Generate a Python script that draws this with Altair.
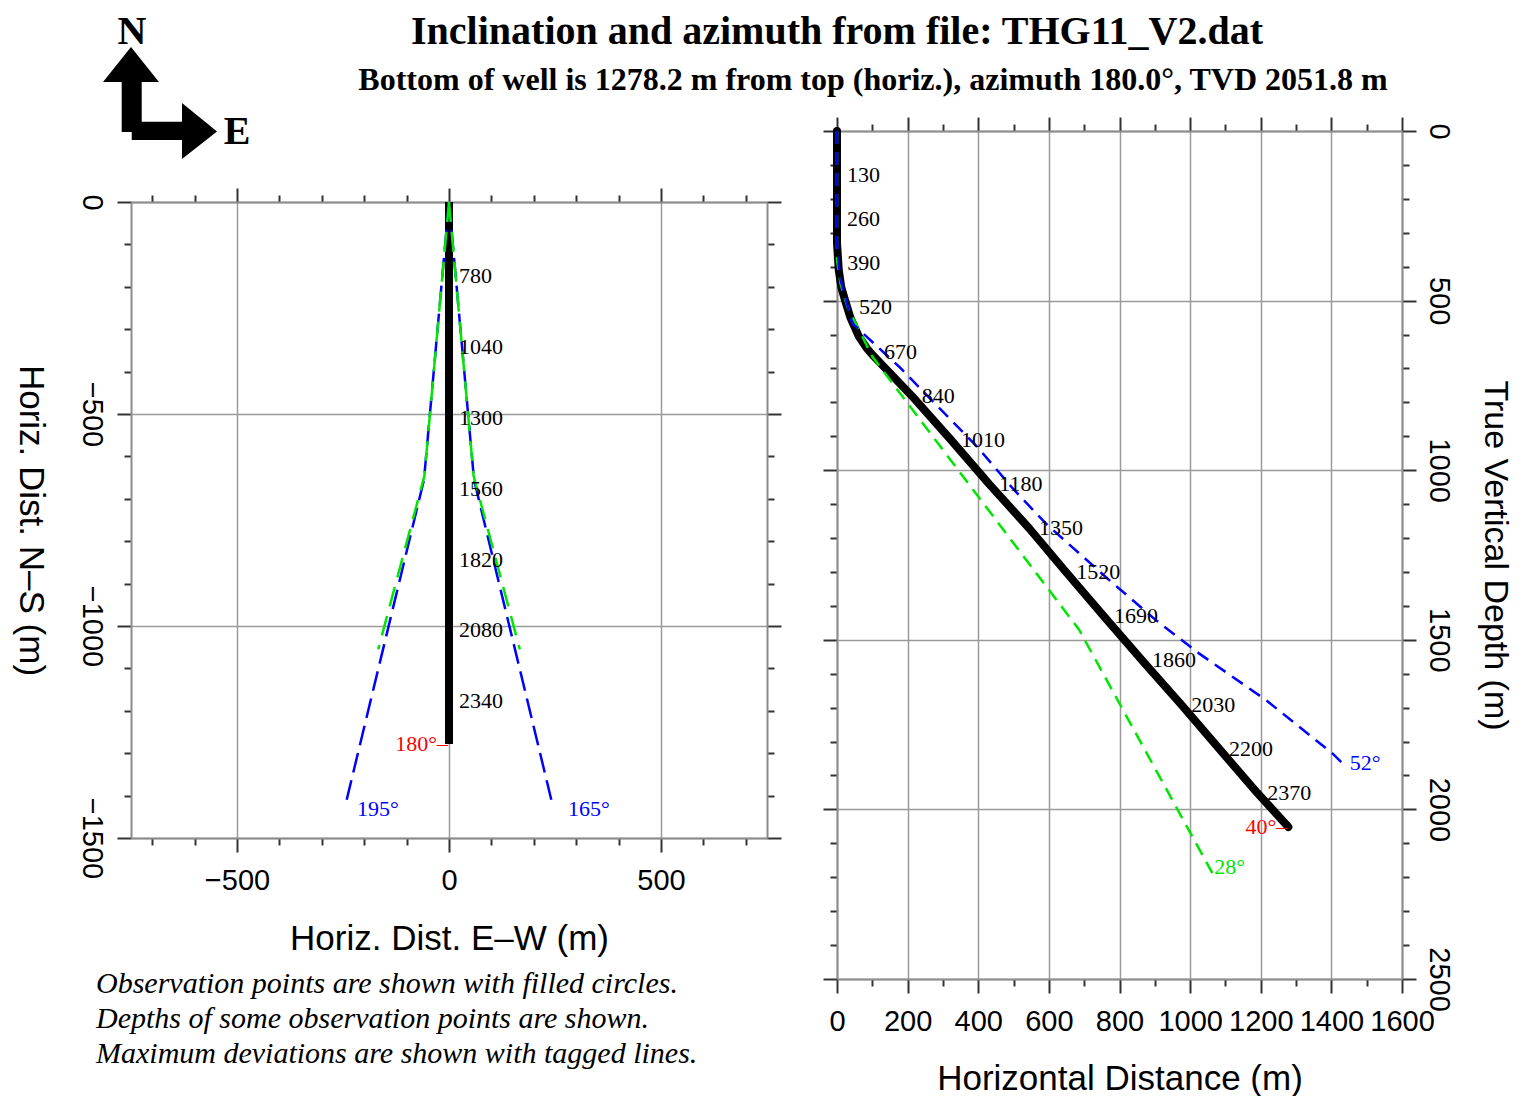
import altair as alt
import pandas as pd

# ---------------- data ----------------
title_main = "Inclination and azimuth from file: THG11_V2.dat"
title_sub = "Bottom of well is 1278.2 m from top (horiz.), azimuth 180.0°, TVD 2051.8 m"
notes = ["Observation points are shown with filled circles.",
         "Depths of some observation points are shown.",
         "Maximum deviations are shown with tagged lines."]

# plan view (E-W, N-S) in metres
plan_well_ew = [0, 0]
plan_well_ns = [0, -1278.2]
plan_lbl_md = ["780", "1040", "1300", "1560", "1820", "2080", "2340"]
plan_lbl_ns = [-175, -342, -509, -677, -844, -1009, -1177]
plan_blue_w_ew = [0, -59, -245]
plan_blue_w_ns = [0, -655, -1425]
plan_blue_e_ew = [0, 59, 245]
plan_blue_e_ns = [0, -655, -1425]
plan_green_w_ew = [0, -58, -167]
plan_green_w_ns = [0, -646, -1055]
plan_green_e_ew = [0, 58, 167]
plan_green_e_ns = [0, -646, -1055]
plan_tag_well = "180°–"
plan_tag_w = "195°"
plan_tag_e = "165°"

# section view (horizontal distance, TVD) in metres
sec_well_hd = [0, 0, 0, 0, 5, 12, 24, 38, 62, 84, 105, 212, 323, 431, 544, 649, 756, 864, 975, 1082, 1190, 1278.2]
sec_well_tvd = [0, 130, 260, 330, 410, 460, 503, 550, 606, 640, 665, 781, 911, 1041, 1171, 1301, 1431, 1561, 1691, 1821, 1951, 2051.8]
sec_lbl_md = ["130", "260", "390", "520", "670", "840", "1010", "1180", "1350", "1520", "1690", "1860", "2030", "2200", "2370"]
sec_lbl_hd = [0, 0, 1, 34, 105, 212, 323, 431, 544, 649, 756, 864, 975, 1082, 1190]
sec_lbl_tvd = [130, 260, 390, 520, 651, 781, 911, 1041, 1171, 1301, 1431, 1561, 1691, 1821, 1951]
sec_blue_hd = [0, 0, 8, 43, 176, 397, 497, 591, 771, 903, 1025, 1214, 1403, 1441]
sec_blue_tvd = [0, 330, 430, 567, 695, 931, 1053, 1157, 1324, 1442, 1540, 1677, 1835, 1874]
sec_green_hd = [0, 0, 10, 30, 53, 100, 686, 1063]
sec_green_tvd = [0, 380, 450, 520, 567, 665, 1471, 2188]
sec_tag_well = "40°–"
sec_tag_blue = "52°"
sec_tag_green = "28°"

# ---------------- styles ----------------
SANS = "Liberation Sans"
SERIF = "Liberation Serif"
FRAME = "#8c8c8c"
GRID = "#9a9a9a"
TICK = "#333333"
BLUE = "#0000ff"
GREEN = "#00e600"
RED = "#ff0000"


def line_df(xs, ys, s="a"):
    return pd.DataFrame({"x": xs, "y": ys, "s": s, "i": list(range(len(xs)))})


def cond(step, a, b):
    return {"condition": {"test": f"datum.value % {step} === 0", "value": a}, "value": b}


def make_axis(orient, values, step, labels=False, grid=False, title="", **kw):
    d = dict(orient=orient, values=values, tickSize=cond(step, 14, 7), tickColor=TICK,
             tickWidth=2, domain=True, domainColor=FRAME, domainWidth=2, labels=labels,
             grid=grid, title=title, format="d", labelFlush=False, labelOverlap=False,
             labelBound=False, labelFont=SANS, labelFontSize=29, labelColor="black",
             titleFont=SANS, titleFontSize=35, titleFontWeight="normal", titleColor="black")
    if labels:
        d["labelExpr"] = f"datum.value % {step} === 0 ? datum.label : ''"
    if grid:
        d["gridOpacity"] = cond(step, 1, 0)
        d["gridColor"] = GRID
        d["gridWidth"] = 1.5
    d.update(kw)
    return alt.Axis(**d)


# ---------------- left panel (plan view) ----------------
LW, LH, LOFF = 636, 707, 71
xs_L = alt.Scale(domain=[-750, 750], nice=False, zero=False)
ys_L = alt.Scale(domain=[-1500, 0], range=[LH, LOFF], nice=False, zero=False)
xv_L = list(range(-700, 701, 100))
yv_L = list(range(-1500, 1, 100))

axL_bottom = make_axis("bottom", xv_L, 500, labels=True, title="Horiz. Dist. E–W (m)",
                       labelPadding=28, labelBaseline="middle", titleX=318, titleY=100,
                       titleBaseline="middle", titleAlign="center")
axL_left = make_axis("left", yv_L, 500, labels=True, grid=True, title="Horiz. Dist. N–S (m)",
                     labelPadding=26, labelAngle=90, labelAlign="center", labelBaseline="middle",
                     titleX=-101, titleY=389, titleAngle=90, titleBaseline="middle", titleAlign="center")
axL_top = make_axis("top", xv_L, 500, grid=True, offset=-LOFF)
axL_right = make_axis("right", yv_L, 500)

plan_blue = pd.concat([line_df(plan_blue_w_ew, plan_blue_w_ns, "w"), line_df(plan_blue_e_ew, plan_blue_e_ns, "e")])
plan_green = pd.concat([line_df(plan_green_w_ew, plan_green_w_ns, "w"), line_df(plan_green_e_ew, plan_green_e_ns, "e")])

L_well = alt.Chart(line_df(plan_well_ew, plan_well_ns)).mark_line(
    color="black", strokeWidth=8, strokeCap="butt").encode(
    x=alt.X("x:Q", scale=xs_L, axis=axL_bottom),
    y=alt.Y("y:Q", scale=ys_L, axis=axL_left),
    order="i:Q")
L_blue = alt.Chart(plan_blue).mark_line(color=BLUE, strokeWidth=2.5, strokeDash=[20, 8]).encode(
    x=alt.X("x:Q", scale=xs_L, axis=None), y=alt.Y("y:Q", scale=ys_L, axis=None),
    detail="s:N", order="i:Q")
L_green = alt.Chart(plan_green).mark_line(color=GREEN, strokeWidth=2.5, strokeDash=[20, 10]).encode(
    x=alt.X("x:Q", scale=xs_L, axis=axL_top), y=alt.Y("y:Q", scale=ys_L, axis=axL_right),
    detail="s:N", order="i:Q")

plan_lbl = pd.DataFrame({"x": [0] * len(plan_lbl_ns), "y": plan_lbl_ns, "t": plan_lbl_md})
L_lbl = alt.Chart(plan_lbl).mark_text(font=SERIF, fontSize=22, align="left", baseline="middle",
                                      dx=10, color="black").encode(
    x=alt.X("x:Q", scale=xs_L, axis=None), y=alt.Y("y:Q", scale=ys_L, axis=None), text="t:N")


def tag(x, y, t, scale_x, scale_y, color, align, dx, dy):
    df = pd.DataFrame({"x": [x], "y": [y], "t": [t]})
    return alt.Chart(df).mark_text(font=SERIF, fontSize=22, align=align, baseline="middle",
                                   dx=dx, dy=dy, color=color).encode(
        x=alt.X("x:Q", scale=scale_x, axis=None), y=alt.Y("y:Q", scale=scale_y, axis=None), text="t:N")


L_tag_well = tag(plan_well_ew[-1], plan_well_ns[-1], plan_tag_well, xs_L, ys_L, RED, "right", -1, 0)
L_tag_w = tag(plan_blue_w_ew[-1], plan_blue_w_ns[-1], plan_tag_w, xs_L, ys_L, BLUE, "left", 12, 3)
L_tag_e = tag(plan_blue_e_ew[-1], plan_blue_e_ns[-1], plan_tag_e, xs_L, ys_L, BLUE, "left", 15, 3)

one = pd.DataFrame({"t": [title_main], "u": [title_sub], "n": ["N"], "e": ["E"]})
H_title = alt.Chart(one).mark_text(font=SERIF, fontSize=40, fontWeight="bold", align="center",
                                   baseline="middle", color="black").encode(
    x=alt.value(706), y=alt.value(-99), text="t:N")
H_sub = alt.Chart(one).mark_text(font=SERIF, fontSize=32, fontWeight="bold", align="center",
                                 baseline="middle", color="black").encode(
    x=alt.value(742), y=alt.value(-51), text="u:N")
H_N = alt.Chart(one).mark_text(font=SERIF, fontSize=40, fontWeight="bold", align="center",
                               baseline="middle", color="black").encode(
    x=alt.value(1), y=alt.value(-99), text="n:N")
H_E = alt.Chart(one).mark_text(font=SERIF, fontSize=40, fontWeight="bold", align="center",
                               baseline="middle", color="black").encode(
    x=alt.value(106), y=alt.value(1), text="e:N")
ARROW = ("M -0.509 -0.982 L -0.018 -0.368 L -0.321 -0.368 L -0.321 0.328 L 0.386 0.328 "
         "L 0.386 0 L 1 0.5 L 0.386 0.982 L 0.386 0.649 L -0.496 0.649 L -0.496 0.509 "
         "L -0.672 0.509 L -0.672 -0.368 L -1 -0.368 Z")
H_arrow = alt.Chart(one).mark_point(shape=ARROW, size=12996, filled=True, color="black",
                                    opacity=1, strokeWidth=0).encode(
    x=alt.value(29), y=alt.value(-28))
H_notes = alt.Chart(one).mark_text(font=SERIF, fontSize=30, fontStyle="italic", align="left",
                                   baseline="middle", lineHeight=35, color="black",
                                   text=notes).encode(
    x=alt.value(-35), y=alt.value(853))
H_anchor = alt.Chart(one).mark_rule(opacity=0, strokeWidth=1).encode(
    x=alt.value(-122.5), x2=alt.value(-122.5), y=alt.value(-122.5), y2=alt.value(-122.5))

left = alt.layer(L_well, L_blue, L_green, L_lbl, L_tag_well, L_tag_w, L_tag_e,
                 H_title, H_sub, H_N, H_E, H_arrow, H_notes, H_anchor).properties(
    width=LW, height=LH).resolve_axis(x="independent", y="independent")

# ---------------- right panel (section view) ----------------
RW, RH = 565, 848
xs_R = alt.Scale(domain=[0, 1600], nice=False, zero=False)
ys_R = alt.Scale(domain=[0, 2500], reverse=True, nice=False, zero=False)
xv_R = list(range(0, 1601, 100))
yv_R = list(range(0, 2501, 100))

axR_bottom = make_axis("bottom", xv_R, 200, labels=True, grid=True, title="Horizontal Distance (m)",
                       labelPadding=28, labelBaseline="middle", titleX=282.5, titleY=99,
                       titleBaseline="middle", titleAlign="center")
axR_left = make_axis("left", yv_R, 500, grid=True)
axR_top = make_axis("top", xv_R, 200)
axR_right = make_axis("right", yv_R, 500, labels=True, title="True Vertical Depth (m)",
                      labelPadding=22, labelAngle=90, labelAlign="center", labelBaseline="middle",
                      titleX=92, titleY=424, titleAngle=90, titleBaseline="middle",
                      titleAlign="center", titleFontSize=34)

R_well = alt.Chart(line_df(sec_well_hd, sec_well_tvd)).mark_line(
    color="black", strokeWidth=8, strokeCap="round", strokeJoin="round").encode(
    x=alt.X("x:Q", scale=xs_R, axis=axR_bottom),
    y=alt.Y("y:Q", scale=ys_R, axis=axR_left),
    order="i:Q")
R_green = alt.Chart(line_df(sec_green_hd, sec_green_tvd)).mark_line(
    color=GREEN, strokeWidth=2.5, strokeDash=[13, 8]).encode(
    x=alt.X("x:Q", scale=xs_R, axis=None), y=alt.Y("y:Q", scale=ys_R, axis=None), order="i:Q")
R_blue = alt.Chart(line_df(sec_blue_hd, sec_blue_tvd)).mark_line(
    color=BLUE, strokeWidth=2.5, strokeDash=[13, 8]).encode(
    x=alt.X("x:Q", scale=xs_R, axis=axR_top), y=alt.Y("y:Q", scale=ys_R, axis=axR_right), order="i:Q")

sec_lbl = pd.DataFrame({"x": sec_lbl_hd, "y": sec_lbl_tvd, "t": sec_lbl_md})
R_lbl = alt.Chart(sec_lbl).mark_text(font=SERIF, fontSize=22, align="left", baseline="middle",
                                     dx=10, color="black").encode(
    x=alt.X("x:Q", scale=xs_R, axis=None), y=alt.Y("y:Q", scale=ys_R, axis=None), text="t:N")
R_tag_well = tag(sec_well_hd[-1], sec_well_tvd[-1], sec_tag_well, xs_R, ys_R, RED, "right", -1, 0)
R_tag_blue = tag(sec_blue_hd[-1], sec_blue_tvd[-1], sec_tag_blue, xs_R, ys_R, BLUE, "left", 4, -4)
R_tag_green = tag(sec_green_hd[-1], sec_green_tvd[-1], sec_tag_green, xs_R, ys_R, GREEN, "left", 2, -6)

right = alt.layer(R_well, R_green, R_blue, R_lbl, R_tag_well, R_tag_blue, R_tag_green).properties(
    width=RW, height=RH).resolve_axis(x="independent", y="independent")

chart = alt.hconcat(left, right, spacing=70, bounds="flush",
                    padding={"left": 0, "top": 0, "right": 4, "bottom": 0}).configure_view(stroke=None)

chart.save("out.html", embed_options={"renderer": "svg", "actions": False})
